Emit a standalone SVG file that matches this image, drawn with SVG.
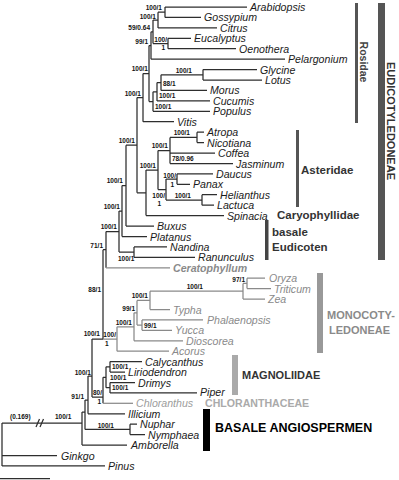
<svg xmlns="http://www.w3.org/2000/svg" width="399" height="480" viewBox="0 0 399 480">
<style>
.e{fill:none;stroke:#2e2e2e;stroke-width:1.25}
.g{fill:none;stroke:#8a8a8a;stroke-width:1.25}
.t{font-family:"Liberation Sans",Arial,sans-serif;font-style:italic;font-size:10.6px;fill:#1a1a1a}
.tg{font-family:"Liberation Sans",Arial,sans-serif;font-style:italic;font-size:10.6px;fill:#8a8a8a}
.s{font-family:"Liberation Sans",Arial,sans-serif;font-size:6.5px;font-weight:bold;fill:#111}
.b{font-family:"Liberation Sans",Arial,sans-serif;font-weight:bold}
</style>
<rect width="399" height="480" fill="#fff"/>
<g id="connectors">
<path class="e" d="M158,12.2H165M165,7V17.4M165,7H247M165,17.4H201M153,20H158M158,12.2V27.9M158,27.9H217M153,43.5H168M168,38.3V48.7M168,38.3H191M168,48.7H236M151,31.8H153M153,20V43.5M149,45.5H151M151,31.8V59.2M151,59.2H285"/>
<path class="e" d="M161,74.8H203M203,69.6V80M203,69.6H257M203,80H262M157,82.6H161M161,74.8V90.4M161,90.4H207M153,91.8H157M157,82.6V100.9M157,100.9H210M149,101.5H153M153,91.8V111.3M153,111.3H210M143,73.5H149M149,45.5V101.5M137,97.6H143M143,73.5V121.7M143,121.7H174"/>
<path class="e" d="M170,137.4H197M197,132.2V142.6M197,132.2H204M197,142.6H204M158,150.5H170M170,137.4V163.5M170,153H215M170,163.5H233M166,179.1H177M177,173.9V184.3M177,173.9H213M177,184.3H190M166,200H202M202,194.7V205.2M202,194.7H217M202,205.2H214M158,189.5H166M166,179.1V200M146,170H158M158,150.5V189.5M137,192.8H146M146,170V215.6M146,215.6H224"/>
<path class="e" d="M126,145.2H137M137,97.6V192.8M122,185.6H126M126,145.2V226M126,226H154M119,211H122M122,185.6V236.5M122,236.5H147M119,252.1H134M134,246.9V257.3M134,246.9H167M134,257.3H195M106,231.6H119M119,211V252.1M103,249.7H106M106,231.6V267.8M92,339H103M103,249.7V339"/>
<path class="g" d="M106,267.8H170"/>
<path class="g" d="M243,283.4H247M247,278.2V288.6M247,278.2H265M247,288.6H271M150,291.2H243M243,283.4V299M243,299H265M137,300.4H150M150,291.2V309.5M150,309.5H170M137,325.1H142M142,319.9V330.3M142,319.9H203M142,330.3H172M134,312.8H137M137,300.4V325.1M117,326.8H134M134,312.8V340.8M134,340.8H183M103,339H117M117,326.8V351.2M117,351.2H169"/>
<path class="e" d="M106,366.8H110M110,361.6V372M110,361.6H142M110,372H125M106,387.7H110M110,382.5V392.9M110,382.5H135M110,392.9H197M103,377.3H106M106,366.8V387.7M92,397H103M103,377.3V403.3M88,376H92M92,339V397M85,400H88M88,376V413.8M88,413.8H125M85,429.4H130M130,424.2V434.6M130,424.2H137M130,434.6H145M82,412H85M85,400V429.4M2,423H82M82,412V445M82,445H127M2,423V465.9M2,455.5H57M2,465.9H105"/>
<path class="g" d="M103,403.3H133"/>
<path class="e" d="M36,427L39.5,419M40,427L43.5,419"/>
<path class="e" d="M0,478.5H50"/>
</g>
<g id="support">
<text class="s" text-anchor="end" x="162" y="9.8">100/1</text>
<text class="s" text-anchor="end" x="156" y="18.5">100/1</text>
<text class="s" text-anchor="end" x="167" y="41.5">100/</text>
<text class="s" text-anchor="end" x="165" y="50">1</text>
<text class="s" text-anchor="end" x="150" y="30">59/0.64</text>
<text class="s" text-anchor="end" x="148" y="43.5">99/1</text>
<text class="s" text-anchor="end" x="192" y="72.5">100/1</text>
<text class="s" x="163" y="86">88/1</text>
<text class="s" x="159" y="98">100/1</text>
<text class="s" x="155" y="109">100/1</text>
<text class="s" text-anchor="end" x="148" y="71">100/1</text>
<text class="s" text-anchor="end" x="141" y="95.5">100/1</text>
<text class="s" text-anchor="end" x="190" y="135">100/1</text>
<text class="s" text-anchor="end" x="168" y="148">100/1</text>
<text class="s" x="172" y="160.5">78/0.96</text>
<text class="s" text-anchor="end" x="156" y="168">100/1</text>
<text class="s" text-anchor="end" x="176" y="177.5">100/</text>
<text class="s" text-anchor="end" x="174" y="186.5">1</text>
<text class="s" text-anchor="end" x="165" y="197.5">100/</text>
<text class="s" text-anchor="end" x="161" y="206">1</text>
<text class="s" text-anchor="end" x="191" y="198">100/1</text>
<text class="s" text-anchor="end" x="135" y="143">100/1</text>
<text class="s" text-anchor="end" x="123" y="183">100/1</text>
<text class="s" text-anchor="end" x="120" y="208.5">100/1</text>
<text class="s" text-anchor="end" x="117" y="229">100/1</text>
<text class="s" x="118" y="261">100/1</text>
<text class="s" text-anchor="end" x="103" y="247.5">71/1</text>
<text class="s" text-anchor="end" x="101" y="292">88/1</text>
<text class="s" text-anchor="end" x="245" y="281.5">97/1</text>
<text class="s" text-anchor="end" x="203" y="288.5">100/1</text>
<text class="s" text-anchor="end" x="148" y="298">100/1</text>
<text class="s" text-anchor="end" x="135" y="310.5">99/1</text>
<text class="s" x="144" y="327.5">99/1</text>
<text class="s" text-anchor="end" x="132" y="324.5">100/1</text>
<text class="s" text-anchor="end" x="116" y="336.5">100/</text>
<text class="s" x="105" y="346">1</text>
<text class="s" text-anchor="end" x="100" y="336">100/1</text>
<text class="s" x="112" y="369">100/1</text>
<text class="s" x="110" y="380">100/1</text>
<text class="s" x="112" y="389.5">100/1</text>
<text class="s" text-anchor="end" x="102" y="395">80/</text>
<text class="s" text-anchor="end" x="101" y="404">1</text>
<text class="s" text-anchor="end" x="91" y="374.5">100/1</text>
<text class="s" text-anchor="end" x="84" y="398.5">91/1</text>
<text class="s" text-anchor="end" x="114" y="427.5">100/1</text>
<text class="s" x="10" y="419">(0.169)</text>
<text class="s" x="55" y="419">100/1</text>
</g>
<g id="n-Arabidopsis"><text class="t" x="250" y="11">Arabidopsis</text></g>
<g id="n-Gossypium"><text class="t" x="204" y="21.4">Gossypium</text></g>
<g id="n-Citrus"><text class="t" x="220" y="31.9">Citrus</text></g>
<g id="n-Eucalyptus"><text class="t" x="194" y="42.3">Eucalyptus</text></g>
<g id="n-Oenothera"><text class="t" x="239" y="52.7">Oenothera</text></g>
<g id="n-Pelargonium"><text class="t" x="288" y="63.2">Pelargonium</text></g>
<g id="n-Glycine"><text class="t" x="260" y="73.6">Glycine</text></g>
<g id="n-Lotus"><text class="t" x="265" y="84">Lotus</text></g>
<g id="n-Morus"><text class="t" x="210" y="94.4">Morus</text></g>
<g id="n-Cucumis"><text class="t" x="213" y="104.9">Cucumis</text></g>
<g id="n-Populus"><text class="t" x="213" y="115.3">Populus</text></g>
<g id="n-Vitis"><text class="t" x="177" y="125.7">Vitis</text></g>
<g id="n-Atropa"><text class="t" x="207" y="136.2">Atropa</text></g>
<g id="n-Nicotiana"><text class="t" x="207" y="146.6">Nicotiana</text></g>
<g id="n-Coffea"><text class="t" x="218" y="157">Coffea</text></g>
<g id="n-Jasminum"><text class="t" x="236" y="167.5">Jasminum</text></g>
<g id="n-Daucus"><text class="t" x="216" y="177.9">Daucus</text></g>
<g id="n-Panax"><text class="t" x="193" y="188.3">Panax</text></g>
<g id="n-Helianthus"><text class="t" x="220" y="198.7">Helianthus</text></g>
<g id="n-Lactuca"><text class="t" x="217" y="209.2">Lactuca</text></g>
<g id="n-Spinacia"><text class="t" x="227" y="219.6">Spinacia</text></g>
<g id="n-Buxus"><text class="t" x="157" y="230">Buxus</text></g>
<g id="n-Platanus"><text class="t" x="150" y="240.5">Platanus</text></g>
<g id="n-Nandina"><text class="t" x="170" y="250.9">Nandina</text></g>
<g id="n-Ranunculus"><text class="t" x="198" y="261.3">Ranunculus</text></g>
<g id="n-Ceratophyllum"><text class="tg" font-weight="bold" x="173" y="271.8">Ceratophyllum</text></g>
<g id="n-Oryza"><text class="tg" x="269" y="282.2">Oryza</text></g>
<g id="n-Triticum"><text class="tg" x="274" y="292.6">Triticum</text></g>
<g id="n-Zea"><text class="tg" x="268" y="303">Zea</text></g>
<g id="n-Typha"><text class="tg" x="173" y="313.5">Typha</text></g>
<g id="n-Phalaenopsis"><text class="tg" x="207" y="323.9">Phalaenopsis</text></g>
<g id="n-Yucca"><text class="tg" x="175" y="334.3">Yucca</text></g>
<g id="n-Dioscorea"><text class="tg" x="186" y="344.8">Dioscorea</text></g>
<g id="n-Acorus"><text class="tg" x="172" y="355.2">Acorus</text></g>
<g id="n-Calycanthus"><text class="t" x="145" y="365.6">Calycanthus</text></g>
<g id="n-Liriodendron"><text class="t" x="128" y="376">Liriodendron</text></g>
<g id="n-Drimys"><text class="t" x="138" y="386.5">Drimys</text></g>
<g id="n-Piper"><text class="t" x="200" y="396.4">Piper</text></g>
<g id="n-Chloranthus"><text class="tg" style="fill:#9c9c9c" x="136" y="407.3">Chloranthus</text></g>
<g id="n-Illicium"><text class="t" x="128" y="417.8">Illicium</text></g>
<g id="n-Nuphar"><text class="t" x="140" y="428.2">Nuphar</text></g>
<g id="n-Nymphaea"><text class="t" x="148" y="438.6">Nymphaea</text></g>
<g id="n-Amborella"><text class="t" x="131" y="449">Amborella</text></g>
<g id="n-Ginkgo"><text class="t" x="61" y="459.5">Ginkgo</text></g>
<g id="n-Pinus"><text class="t" x="108" y="469.9">Pinus</text></g>
<g id="clade-Rosidae"><rect x="355" y="3" width="3" height="120" fill="#555"/><text class="b" font-size="10.5" fill="#444" text-anchor="middle" transform="translate(360,62) rotate(90)">Rosidae</text></g>
<g id="clade-Eudicot"><rect x="378" y="3" width="7" height="257" fill="#555"/><text class="b" font-size="11" fill="#333" text-anchor="middle" transform="translate(387,121) rotate(90)">EUDICOTYLEDONEAE</text></g>
<g id="clade-Asteridae"><rect x="296" y="130" width="3" height="77" fill="#555"/><text class="b" font-size="11.5" fill="#333" x="301" y="174">Asteridae</text></g>
<g id="clade-Caryophyllidae"><text class="b" font-size="11.5" fill="#333" x="277" y="219">Caryophyllidae</text></g>
<g id="clade-basal-eudicots"><rect x="265" y="220" width="3.5" height="40" fill="#444"/><text class="b" font-size="11.5" fill="#333" x="272" y="236">basale</text><text class="b" font-size="11.5" fill="#333" x="272" y="251">Eudicoten</text></g>
<g id="clade-Monocots"><rect x="317" y="273" width="6" height="80" fill="#999"/><text class="b" font-size="11" fill="#8a8a8a" x="327" y="319">MONOCOTY-</text><text class="b" font-size="11" fill="#8a8a8a" x="329" y="334">LEDONEAE</text></g>
<g id="clade-Magnoliidae"><rect x="232" y="355" width="6" height="40" fill="#aaa"/><text class="b" font-size="11" fill="#333" x="242" y="379">MAGNOLIIDAE</text></g>
<g id="clade-Chloranthaceae"><text class="b" font-size="10.6" fill="#aaa" x="205" y="407">CHLORANTHACEAE</text></g>
<g id="clade-basal-angiosperms"><rect x="203" y="409" width="7" height="42" fill="#000"/><text class="b" font-size="12.5" fill="#000" x="215" y="432">BASALE ANGIOSPERMEN</text></g>
</svg>
